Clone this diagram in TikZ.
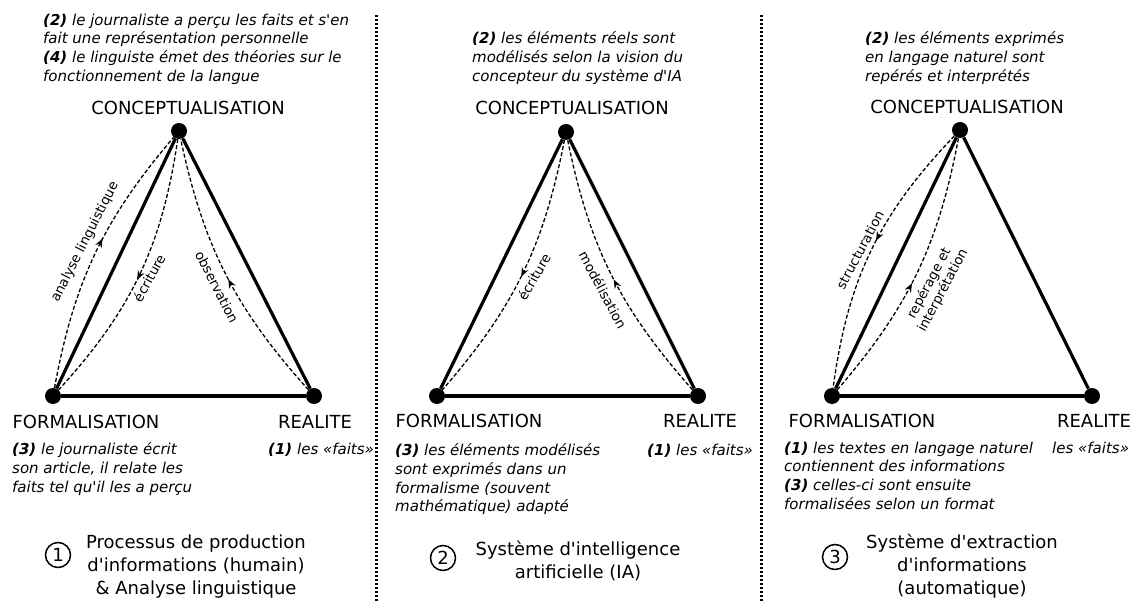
\documentclass[tikz,border=0pt]{standalone}
\usepackage{fontspec}
\setmainfont{DejaVu Sans}[Ligatures=TeXOff,
  BoldFont={DejaVu Sans Bold},
  ItalicFont={DejaVu Sans Oblique},
  BoldItalicFont={DejaVu Sans Bold Oblique}]
\usetikzlibrary{arrows.meta,decorations.markings}
\tikzset{
  vdot/.style={circle, fill=black, inner sep=0pt, minimum size=16pt},
  triside/.style={line width=3.2pt},
  flowline/.style={line width=1.3pt, dash pattern=on 4pt off 2.2pt},
  midarrow/.style={postaction={decorate}, decoration={markings,
      mark=at position #1 with {\arrow{Stealth[length=9pt,width=7pt]}}}},
  vlabel/.style={inner sep=0pt, font=\fontsize{18}{22}\selectfont},
  notetext/.style={inner sep=0pt, anchor=north west, align=left,
      font=\fontsize{15}{18.7}\selectfont\itshape},
  flowtext/.style={inner sep=0pt, font=\fontsize{13.3}{15.5}\selectfont},
  titletext/.style={inner sep=0pt, align=center, font=\fontsize{18}{23}\selectfont},
  numcirc/.style={circle, draw, line width=1.5pt, inner sep=0pt,
      minimum size=25pt, font=\fontsize{18}{18}\selectfont},
  divline/.style={line width=2.4pt, dash pattern=on 2.2pt off 1.8pt},
}
\begin{document}
\begin{tikzpicture}[x=1pt, y=-1pt]
\useasboundingbox[fill=white] (0,0) rectangle (1137,601);

% dividers
\coordinate (d1t) at (376.5,15);
\coordinate (d1b) at (376.5,601);
\coordinate (d2t) at (761.5,15);
\coordinate (d2b) at (761.5,601);
\draw[divline] (d1t) -- (d1b);
\draw[divline] (d2t) -- (d2b);

% ================= Panel 1 =================
\node[vdot] (c1) at (179,131) {};
\node[vdot] (f1) at (53,396) {};
\node[vdot] (r1) at (314,396) {};
\draw[triside] (c1) -- (f1);
\draw[triside] (c1) -- (r1);
\draw[triside] (f1) -- (r1);
\draw[flowline, midarrow=0.56] (f1) to[bend left=15] (c1);
\draw[flowline, midarrow=0.52] (c1) to[bend left=17] (f1);
\draw[flowline, midarrow=0.48] (r1) to[bend left=15] (c1);
\node[flowtext, rotate=63] (al1) at (85,242) {analyse linguistique};
\node[flowtext, rotate=61] (ec1) at (149,278) {écriture};
\node[flowtext, rotate=-63] (ob1) at (217,287) {observation};

\node[vlabel] (lc1) at (188,108) {CONCEPTUALISATION};
\node[vlabel] (lf1) at (86,422) {FORMALISATION};
\node[vlabel] (lr1) at (315,422) {REALITE};

\node[notetext] (t1) at (43,13.5) {\textbf{(2)} le journaliste a perçu les faits et s'en\\fait une représentation personnelle\\\textbf{(4)} le linguiste émet des théories sur le\\fonctionnement de la langue};
\node[notetext] (b1) at (12,442.5) {\textbf{(3)} le journaliste écrit\\son article, il relate les\\faits tel qu'il les a perçu};
\node[notetext] (rf1) at (268,442.5) {\textbf{(1)} les «faits»};

\node[numcirc] (n1) at (58,555) {1};
\node[titletext] (ti1) at (196,567) {Processus de production\\d'informations (humain)\\\& Analyse linguistique};

% ================= Panel 2 =================
\node[vdot] (c2) at (566,132) {};
\node[vdot] (f2) at (437,396) {};
\node[vdot] (r2) at (698,396) {};
\draw[triside] (c2) -- (f2);
\draw[triside] (c2) -- (r2);
\draw[triside] (f2) -- (r2);
\draw[flowline, midarrow=0.51] (c2) to[bend left=15] (f2);
\draw[flowline, midarrow=0.48] (r2) to[bend left=15] (c2);
\node[flowtext, rotate=60] (ec2) at (534,277) {écriture};
\node[flowtext, rotate=-62] (mo2) at (603,290) {modélisation};

\node[vlabel] (lc2) at (572,108) {CONCEPTUALISATION};
\node[vlabel] (lf2) at (469,421) {FORMALISATION};
\node[vlabel] (lr2) at (700,421) {REALITE};

\node[notetext] (t2) at (472,31.5) {\textbf{(2)} les éléments réels sont\\modélisés selon la vision du\\concepteur du système d'IA};
\node[notetext] (b2) at (395,443.5) {\textbf{(3)} les éléments modélisés\\sont exprimés dans un\\formalisme (souvent\\mathématique) adapté};
\node[notetext] (rf2) at (647,443.5) {\textbf{(1)} les «faits»};

\node[numcirc] (n2) at (443,558) {2};
\node[titletext] (ti2) at (578,561) {Système d'intelligence\\artificielle (IA)};

% ================= Panel 3 =================
\node[vdot] (c3) at (960,130) {};
\node[vdot] (f3) at (832,396) {};
\node[vdot] (r3) at (1092,396) {};
\draw[triside] (c3) -- (f3);
\draw[triside] (c3) -- (r3);
\draw[triside] (f3) -- (r3);
\draw[flowline, midarrow=0.46] (c3) to[bend right=18] (f3);
\draw[flowline, midarrow=0.46] (f3) to[bend right=15] (c3);
\node[flowtext, rotate=62] (st3) at (860,250) {structuration};
\node[flowtext, rotate=62, align=center] (re3) at (936,287) {repérage et\\interprétation};

\node[vlabel] (lc3) at (967,107) {CONCEPTUALISATION};
\node[vlabel] (lf3) at (862,421) {FORMALISATION};
\node[vlabel] (lr3) at (1094,421) {REALITE};

\node[notetext] (t3) at (865,31.5) {\textbf{(2)} les éléments exprimés\\en langage naturel sont\\repérés et interprétés};
\node[notetext] (b3) at (784,441.5) {\textbf{(1)} les textes en langage naturel\\contiennent des informations\\\textbf{(3)} celles-ci sont ensuite\\formalisées selon un format};
\node[notetext] (rf3) at (1052,441.5) {les «faits»};

\node[numcirc] (n3) at (835,557) {3};
\node[titletext] (ti3) at (962,566) {Système d'extraction\\d'informations\\(automatique)};
\end{tikzpicture}
\end{document}
